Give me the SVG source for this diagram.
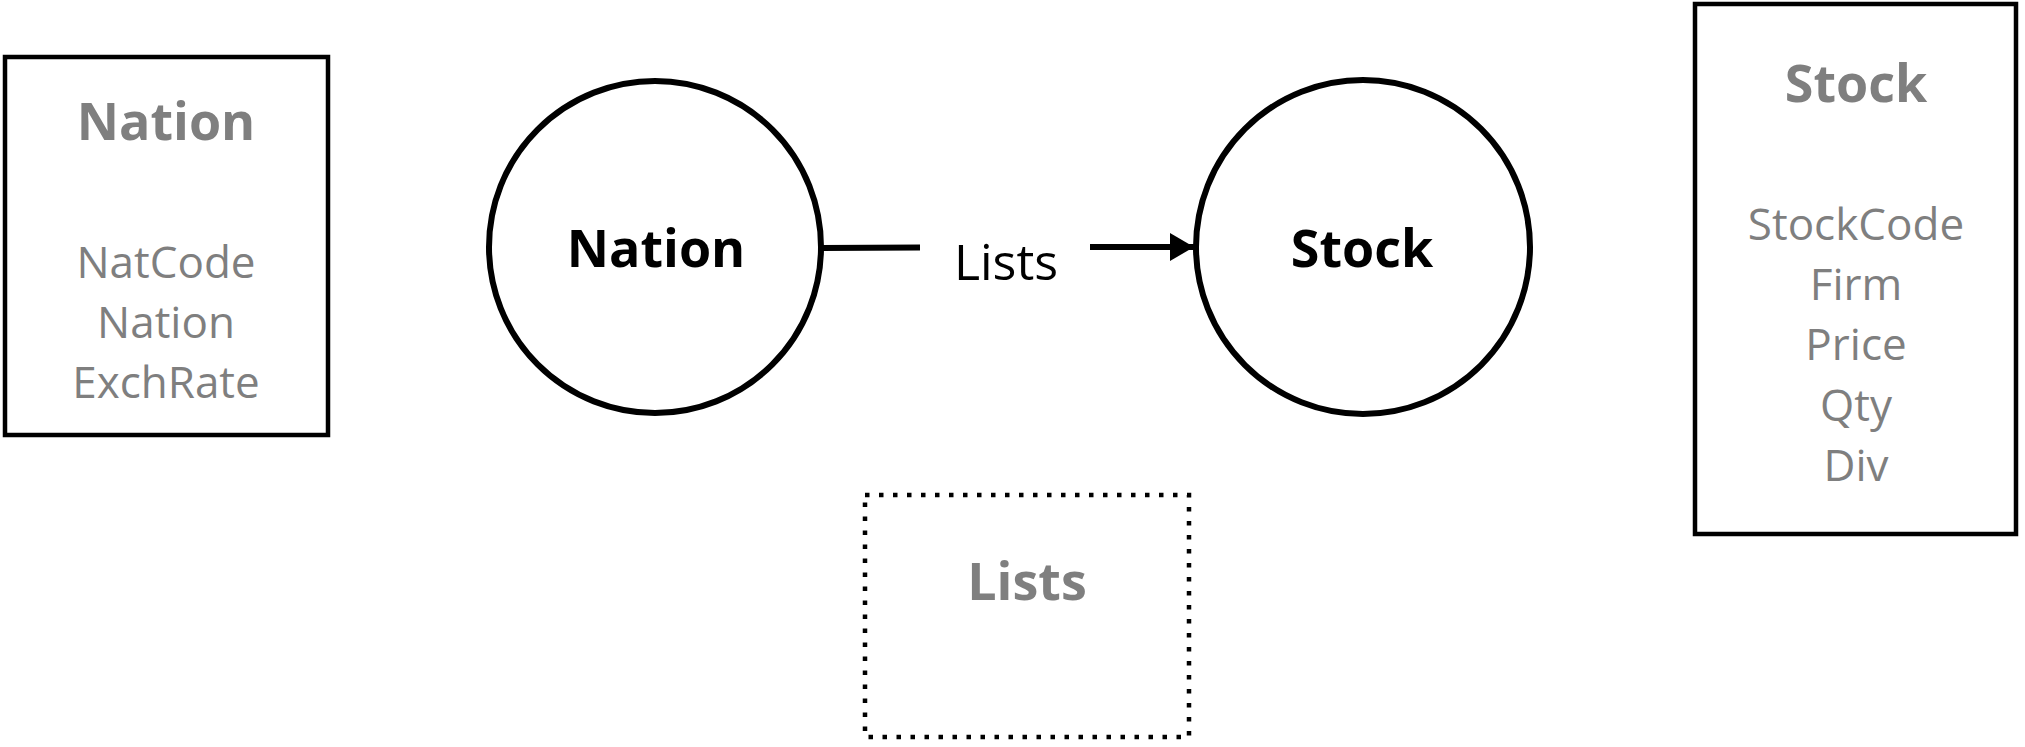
<svg xmlns="http://www.w3.org/2000/svg" width="2025" height="747" viewBox="0 0 2025 747">
<style>
.box{fill:#fff;stroke:#000;stroke-width:4.5}
.dot{fill:#fff;stroke:#000;stroke-width:4.5;stroke-dasharray:4.5 9.5}
.circ{fill:#fff;stroke:#000;stroke-width:6}
.title{font-family:"Open Sans","Noto Sans",sans-serif;font-weight:bold;font-size:52px;fill:#7f7f7f;text-anchor:middle}
.attr{font-family:"Open Sans","Noto Sans",sans-serif;font-size:44px;fill:#7f7f7f;text-anchor:middle}
.ent{font-family:"Open Sans","Noto Sans",sans-serif;font-weight:bold;font-size:52px;fill:#000;text-anchor:middle}
.lbl{font-family:"Open Sans","Noto Sans",sans-serif;font-size:50px;fill:#000;text-anchor:middle}
.edge{stroke:#000;stroke-width:6;fill:none}
</style>
<defs>
<marker id="arr" viewBox="0 0 24 28" refX="24" refY="14" markerWidth="24" markerHeight="28" markerUnits="userSpaceOnUse" orient="auto">
<path d="M0,0 L24,14 L0,28 Z" fill="#000"/>
</marker>
</defs>
<g id="nation-table">
<rect class="box" x="5" y="57" width="323" height="378"/>
<text class="title" x="166" y="140">Nation</text>
<text class="attr" x="166" y="278">NatCode</text>
<text class="attr" x="166" y="338">Nation</text>
<text class="attr" x="166" y="398">ExchRate</text>
</g>
<g id="stock-table">
<rect class="box" x="1695" y="4" width="321" height="530"/>
<text class="title" x="1856" y="102">Stock</text>
<text class="attr" x="1856" y="240">StockCode</text>
<text class="attr" x="1856" y="300">Firm</text>
<text class="attr" x="1856" y="360">Price</text>
<text class="attr" x="1856" y="421">Qty</text>
<text class="attr" x="1856" y="481">Div</text>
</g>
<g id="lists-table">
<rect class="dot" x="865" y="495" width="324" height="242"/>
<text class="title" x="1027" y="600">Lists</text>
</g>
<g id="nation">
<circle class="circ" cx="655" cy="247" r="166"/>
<text class="ent" x="656" y="267">Nation</text>
</g>
<g id="stock">
<circle class="circ" cx="1363" cy="247" r="167"/>
<text class="ent" x="1362" y="267">Stock</text>
</g>
<g id="connectors">
<line class="edge" x1="821" y1="248" x2="920" y2="247.5"/>
<line class="edge" x1="1090" y1="247" x2="1194" y2="247" marker-end="url(#arr)"/>
<text class="lbl" x="1006" y="280">Lists</text>
</g>
</svg>
